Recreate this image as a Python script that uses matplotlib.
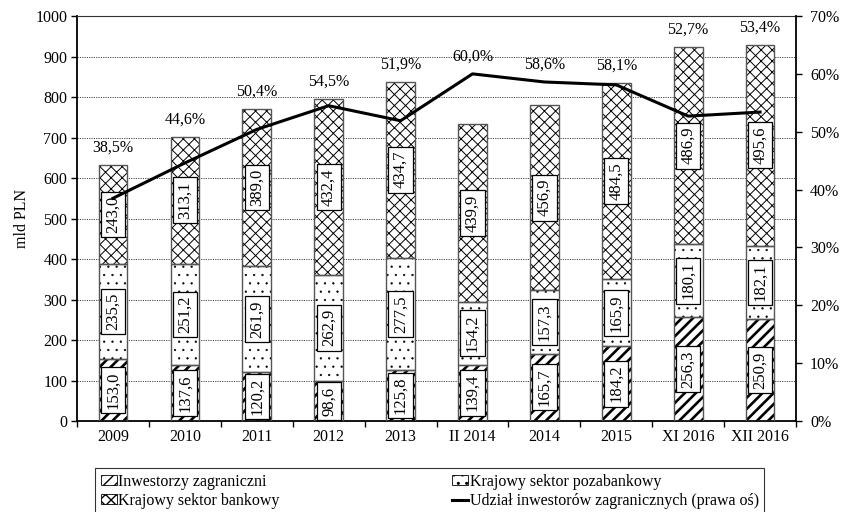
import matplotlib
matplotlib.use("Agg")
import matplotlib.pyplot as plt
from matplotlib.patches import Patch
from matplotlib.lines import Line2D
from matplotlib.ticker import FuncFormatter, FixedLocator
import numpy as np

plt.rcParams['font.family'] = ['Liberation Serif', 'DejaVu Serif']
plt.rcParams['font.size'] = 11.5

categories = ["2009", "2010", "2011", "2012", "2013", "II 2014",
              "2014", "2015", "XI 2016", "XII 2016"]
foreign = [153.0, 137.6, 120.2, 98.6, 125.8, 139.4, 165.7, 184.2, 256.3, 250.9]
nonbank = [235.5, 251.2, 261.9, 262.9, 277.5, 154.2, 157.3, 165.9, 180.1, 182.1]
bank = [243.0, 313.1, 389.0, 432.4, 434.7, 439.9, 456.9, 484.5, 486.9, 495.6]
share = [38.5, 44.6, 50.4, 54.5, 51.9, 60.0, 58.6, 58.1, 52.7, 53.4]

series_labels = ["Inwestorzy zagraniczni", "Krajowy sektor pozabankowy",
                 "Krajowy sektor bankowy",
                 "Udział inwestorów zagranicznych (prawa oś)"]

styles = [
    dict(hatch="///", hlw=1.9),
    dict(hatch="..", hlw=0.4),
    dict(hatch="xxx", hlw=0.7),
]


def fmt_pl(v, decimals=1):
    return f"{v:.{decimals}f}".replace(".", ",")


def hatched_patch(st, **kw):
    plt.rcParams['hatch.linewidth'] = st["hlw"]
    p = Patch(hatch=st["hatch"], **kw)
    if hasattr(p, "set_hatch_linewidth"):
        p.set_hatch_linewidth(st["hlw"])
    return p


fig = plt.figure(figsize=(8.42, 5.12), dpi=100)
ax = fig.add_axes([0.0915, 0.1777, 0.8539, 0.7910])
ax2 = ax.twinx()
ax.set_zorder(2)
ax2.set_zorder(3)
ax.patch.set_visible(False)

x = np.arange(len(categories))
width = 0.4

bottoms = np.zeros(len(categories))
for vals, st in zip([foreign, nonbank, bank], styles):
    vals = np.asarray(vals)
    plt.rcParams['hatch.linewidth'] = st["hlw"]
    bars = ax.bar(x, vals, width, bottom=bottoms, color="white",
                  edgecolor="black", linewidth=0, hatch=st["hatch"], zorder=2)
    for b in bars:
        if hasattr(b, "set_hatch_linewidth"):
            b.set_hatch_linewidth(st["hlw"])
    ax.bar(x, vals, width, bottom=bottoms, fill=False,
           edgecolor="#555555", linewidth=1.0, zorder=3)
    for xi, b0, v in zip(x, bottoms, vals):
        ax.text(xi, b0 + v / 2, fmt_pl(v), rotation=90, ha="center",
                va="center", fontsize=12, zorder=5,
                bbox=dict(boxstyle="square,pad=0.25", fc="white",
                          ec="black", lw=0.9))
    bottoms = bottoms + vals

totals = bottoms
ax.set_ylim(0, 1000)
ax.set_xlim(-0.5, len(categories) - 0.5)
ax.set_yticks(np.arange(0, 1001, 100))
ax.set_ylabel("mld PLN", fontsize=11.5)
ax.yaxis.set_label_coords(-0.066, 0.5)
ax.yaxis.grid(True, linestyle=(0, (1.2, 1.2)), color="#444444",
              linewidth=0.7, zorder=0)
ax.set_axisbelow(True)

ax.set_xticks(x)
ax.set_xticklabels(categories)
ax.xaxis.set_minor_locator(FixedLocator(np.arange(-0.5, len(categories), 1.0)))
ax.tick_params(axis="x", which="major", length=0, pad=6)
ax.tick_params(axis="x", which="minor", length=4, width=1.0, direction="out")
ax.tick_params(axis="y", length=4, width=1.0, direction="out", pad=3)

for s in ["left", "bottom"]:
    ax.spines[s].set_linewidth(1.3)
ax.spines["top"].set_linewidth(0.8)
ax.spines["top"].set_color("#333333")
ax.spines["right"].set_visible(False)

ax2.plot(x, share, color="black", linewidth=2.2, zorder=4)
ax2.set_ylim(0, 70)
ax2.set_yticks(np.arange(0, 71, 10))
ax2.yaxis.set_major_formatter(FuncFormatter(lambda v, p: f"{v:.0f}%"))
ax2.tick_params(axis="y", length=4, width=1.0, direction="out", pad=6)
ax2.spines["right"].set_linewidth(1.3)
for s in ["left", "bottom", "top"]:
    ax2.spines[s].set_visible(False)

# percentage labels above the taller of the bar and the line point
for xi, tot, s in zip(x, totals, share):
    top = max(tot, s / 70 * 1000)
    ax.annotate(fmt_pl(s) + "%", (xi, top), xytext=(0, 12.5),
                textcoords="offset points", ha="center", va="center",
                fontsize=11.5, zorder=6)

handles = [
    hatched_patch(styles[0], facecolor="white", edgecolor="black", linewidth=0.6),
    hatched_patch(styles[2], facecolor="white", edgecolor="black", linewidth=0.6),
    hatched_patch(styles[1], facecolor="white", edgecolor="black", linewidth=0.6),
    Line2D([0], [0], color="black", linewidth=2.2),
]
plt.rcParams['hatch.linewidth'] = 1.0
labels = [series_labels[0], series_labels[2], series_labels[1], series_labels[3]]
leg = fig.legend(handles, labels, ncol=2, loc="upper left",
                 bbox_to_anchor=(0.113, 0.0859), borderaxespad=0,
                 frameon=True, fancybox=False, edgecolor="black",
                 fontsize=11.5, handlelength=1.0, handleheight=0.55,
                 handletextpad=0.1, columnspacing=10.8, labelspacing=0.2,
                 borderpad=0.35)
leg.get_frame().set_linewidth(0.8)

fig.savefig("out.png", dpi=100)
